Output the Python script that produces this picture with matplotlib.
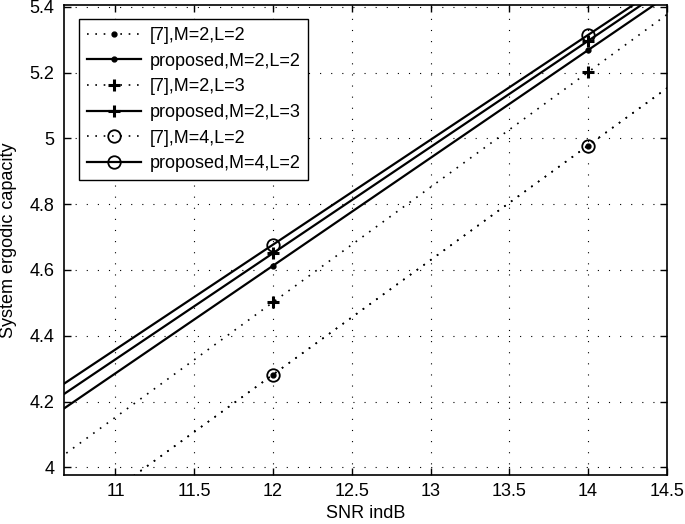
import numpy as np
import matplotlib.pyplot as plt

plt.rcParams['font.family'] = ['Liberation Sans', 'DejaVu Sans']

# Data
snr = [10, 12, 14, 16]
ref_m2_l2 = [3.586, 4.282, 4.978, 5.674]
prop_m2_l2 = [3.959, 4.613, 5.268, 5.922]
ref_m2_l3 = [3.803, 4.502, 5.201, 5.900]
prop_m2_l3 = [4.006, 4.651, 5.296, 5.941]
ref_m4_l2 = [3.586, 4.282, 4.978, 5.674]
prop_m4_l2 = [4.040, 4.677, 5.314, 5.951]

fig = plt.figure(figsize=(6.85, 5.24), dpi=100)
ax = fig.add_axes([0.0934, 0.0935, 0.880, 0.8975])

dot = (0, (1, 4))
ax.plot(snr, ref_m2_l2, color='k', linestyle=dot, lw=1.2, marker='.', ms=7, label='[7],M=2,L=2')
ax.plot(snr, prop_m2_l2, color='k', linestyle='-', lw=1.6, marker='.', ms=7, label='proposed,M=2,L=2')
ax.plot(snr, ref_m2_l3, color='k', linestyle=dot, lw=1.2, marker='+', ms=8, mew=2.2, label='[7],M=2,L=3')
ax.plot(snr, prop_m2_l3, color='k', linestyle='-', lw=1.6, marker='+', ms=8, mew=2.2, label='proposed,M=2,L=3')
ax.plot(snr, ref_m4_l2, color='k', linestyle=dot, lw=1.2, marker='o', ms=9, mfc='none', mew=1.3, label='[7],M=4,L=2')
ax.plot(snr, prop_m4_l2, color='k', linestyle='-', lw=1.6, marker='o', ms=9, mfc='none', mew=1.3, label='proposed,M=4,L=2')

ax.set_xlim(10.673, 14.5)
ax.set_ylim(3.977, 5.406)
ax.set_xticks([11, 11.5, 12, 12.5, 13, 13.5, 14, 14.5])
ax.set_xticklabels(['11', '11.5', '12', '12.5', '13', '13.5', '14', '14.5'])
ax.set_yticks([4, 4.2, 4.4, 4.6, 4.8, 5, 5.2, 5.4])
ax.set_yticklabels(['4', '4.2', '4.4', '4.6', '4.8', '5', '5.2', '5.4'])
ax.tick_params(direction='in', top=True, right=True, labelsize=13, length=5, width=1)
ax.tick_params(axis='x', pad=6)
ax.tick_params(axis='y', pad=7)
ax.grid(True, color='k', linestyle=(0, (1, 9)), lw=0.8)
for s in ax.spines.values():
    s.set_linewidth(1.2)

ax.set_xlabel('SNR indB', fontsize=13, labelpad=3)
ax.set_ylabel('System ergodic capacity', fontsize=13, labelpad=9)

leg = ax.legend(loc='upper left', bbox_to_anchor=(0.025, 0.97), borderaxespad=0,
                fontsize=13, fancybox=False, edgecolor='k', framealpha=1,
                handlelength=3.0, handletextpad=0.45, labelspacing=0.48,
                borderpad=0.45)
leg.get_frame().set_linewidth(1.0)

fig.savefig('out.png', dpi=100)
